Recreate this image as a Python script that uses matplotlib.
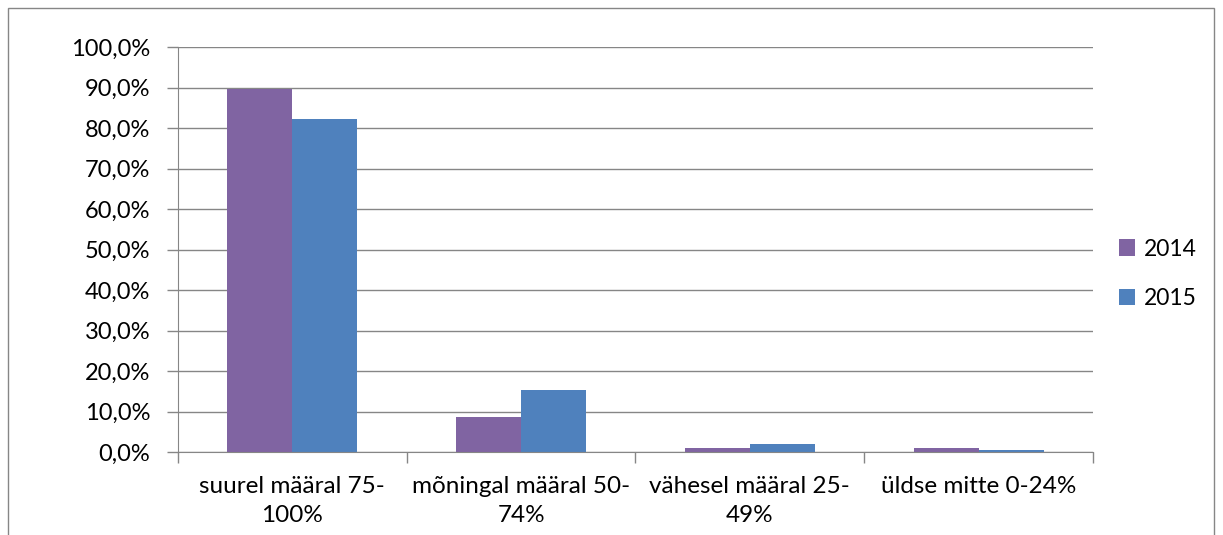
import matplotlib.pyplot as plt
import numpy as np
from matplotlib.patches import Rectangle

# Data
categories = ["suurel määral 75-\n100%", "mõningal määral 50-\n74%",
              "vähesel määral 25-\n49%", "üldse mitte 0-24%"]
years = ["2014", "2015"]
values_2014 = [89.6, 8.6, 0.9, 0.9]
values_2015 = [82.2, 15.3, 2.0, 0.5]
colors = ["#8064A2", "#4F81BD"]

plt.rcParams['font.family'] = ['Lato', 'DejaVu Sans']

fig = plt.figure(figsize=(12.23, 5.35), dpi=100)
ax = fig.add_axes([0.1455, 0.1551, 0.7482, 0.757])

x = np.arange(len(categories))
width = 0.284
ax.bar(x - width / 2, values_2014, width, color=colors[0], label=years[0])
ax.bar(x + width / 2, values_2015, width, color=colors[1], label=years[1])

ax.set_xlim(-0.5, len(categories) - 0.5)
ax.set_ylim(0, 100)
ax.set_yticks(np.arange(0, 101, 10))
ax.set_yticklabels([f"{v:.1f}%".replace(".", ",") for v in np.arange(0, 101, 10)])
ax.yaxis.grid(True, color="#868686", linewidth=1)
ax.set_axisbelow(True)

ax.set_xticks(x)
ax.set_xticklabels(categories, fontsize=17.5, linespacing=1.5)
ax.set_xticks(np.arange(-0.5, len(categories)), minor=True)
ax.tick_params(axis="x", which="major", length=0, pad=17)
ax.tick_params(axis="x", which="minor", length=8, color="#868686", width=1)
ax.tick_params(axis="y", length=8, color="#868686", width=1, labelsize=17, pad=12)

for side in ["top", "right"]:
    ax.spines[side].set_visible(False)
ax.spines["left"].set_color("#868686")
ax.spines["bottom"].set_color("#868686")

ax.legend(loc="center left", bbox_to_anchor=(1.006, 0.44), frameon=False,
          fontsize=16.5, handlelength=0.7, handleheight=0.7, handletextpad=0.4,
          labelspacing=1.25)

# outer chart border
fig.patches.append(Rectangle((8 / 1223, -0.05), 1206 / 1223, 1.05 - 8 / 535,
                             transform=fig.transFigure, fill=False,
                             edgecolor="#868686", linewidth=1))

fig.savefig("out.png", dpi=100)
